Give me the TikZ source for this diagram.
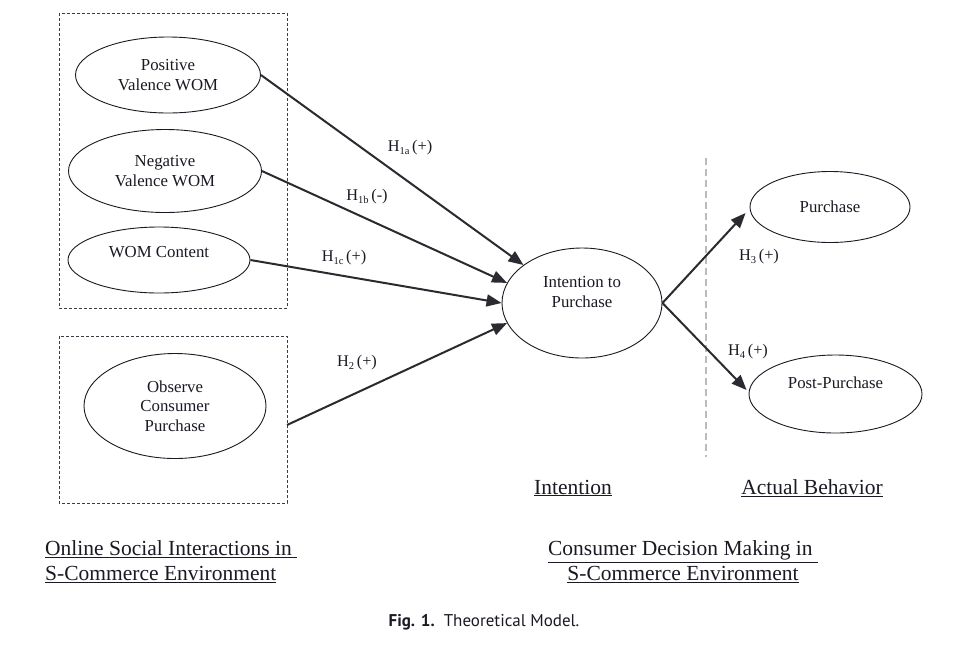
\documentclass[tikz,border=0pt]{standalone}
\usepackage{fontspec}
\setmainfont{Liberation Serif}
\newfontfamily\capfont{PT Sans}
\usetikzlibrary{shapes.geometric,arrows.meta}
\definecolor{ink}{HTML}{1A1A24}
\definecolor{arr}{HTML}{2A2A30}
\definecolor{vline}{HTML}{BBBBBB}
\newcommand{\hsub}[1]{\raisebox{-0.35ex}{\fontsize{10.5}{10.5}\selectfont #1}}
\begin{document}
\begin{tikzpicture}[x=1pt,y=-1pt,
  ell/.style={draw=ink, line width=0.9pt, ellipse, inner sep=0pt, align=center,
    font=\fontsize{16.8}{20}\selectfont, text=ink},
  grp/.style={draw=ink!85, line width=0.8pt, dash pattern=on 3pt off 2pt},
  link/.style={draw=arr, line width=2pt, -{Triangle[length=15pt,width=12pt]}},
  hyp/.style={font=\fontsize{16.3}{20}\selectfont, text=ink, inner sep=0pt},
  sect/.style={font=\fontsize{21.5}{25}\selectfont, text=ink, inner sep=0pt},
]
\useasboundingbox (0,0) rectangle (963,649);
\fill[white] (0,0) rectangle (963,649);

% group boxes
\draw[grp] (59,13) rectangle (287,308);
\draw[grp] (59,336) rectangle (287,503);

% separator
\draw[vline, line width=1.2pt, dash pattern=on 7pt off 4pt] (706,158) -- (706,457);

% ellipses
\node[ell, minimum width=185, minimum height=76] (pos) at (168,75) {Positive\\Valence WOM};
\node[ell, minimum width=193, minimum height=83] (neg) at (165,171) {Negative\\Valence WOM};
\node[ell, minimum width=182, minimum height=66, text depth=16pt] (cont) at (159,260) {WOM Content};
\node[ell, minimum width=182, minimum height=105, font=\fontsize{16.8}{19.5}\selectfont] (obs) at (175,406) {Observe\\Consumer\\Purchase};
\node[ell, minimum width=160, minimum height=110, text depth=22pt] (int) at (582,303) {Intention to\\Purchase};
\node[ell, minimum width=160, minimum height=71] (pur) at (830,207) {Purchase};
\node[ell, minimum width=173, minimum height=78, text depth=22pt] (post) at (835.5,394) {Post-Purchase};

% connectors
\coordinate (b2e) at (287,425);
\draw[link] (pos.east) -- (int.147);
\draw[link] (neg.east) -- (int.165);
\draw[link] (cont.east) -- (int.180);
\draw[link] (b2e) -- (int.195);
\draw[link] (int.east) -- ([xshift=-4pt,yshift=-6pt]pur.west);
\draw[link] (int.east) -- ([xshift=-2pt,yshift=4pt]post.west);

% hypothesis labels
\node[hyp] (h1a) at (410,148) {H\hsub{1a}\,(+)};
\node[hyp] (h1b) at (367,197) {H\hsub{1b}\,(-)};
\node[hyp] (h1c) at (344,258) {H\hsub{1c}\,(+)};
\node[hyp] (h2) at (357,363) {H\hsub{2}\,(+)};
\node[hyp] (h3) at (759,257) {H\hsub{3}\,(+)};
\node[hyp] (h4) at (748,352) {H\hsub{4}\,(+)};

% section labels
\node[sect] (lint) at (573,488) {\underline{Intention}};
\node[sect] (lact) at (812,488) {\underline{Actual Behavior}};
\node[sect, anchor=west, align=left] (lonl) at (45,562) {\underline{Online Social Interactions in\ }\\\underline{S-Commerce Environment}};
\node[sect, align=center] (lcon) at (683,562) {\underline{Consumer Decision Making in\ }\\\underline{S-Commerce Environment}};

% caption
\node[font=\capfont\fontsize{17}{20}\selectfont, text=ink, inner sep=0pt] (cap) at (484,622) {\textbf{Fig. 1.}\ \ Theoretical Model.};
\end{tikzpicture}
\end{document}
